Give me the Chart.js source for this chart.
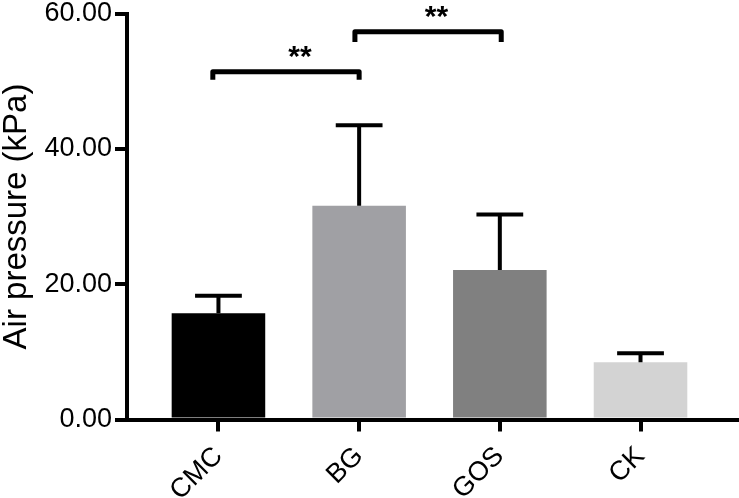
<!DOCTYPE html>
<html>
<head>
<meta charset="utf-8">
<script src="https://cdn.jsdelivr.net/npm/chart.js@4.4.0/dist/chart.umd.min.js"></script>
<style>
html, body { margin: 0; padding: 0; background: #fff; overflow: hidden; }
#wrap { width: 739px; height: 498px; }
</style>
</head>
<body>
<div id="wrap"><canvas id="chart"></canvas></div>
<script>
// Data
const groups = ['CMC', 'BG', 'GOS', 'CK'];
const means = [15.7, 31.6, 22.1, 8.45];
const sd = [2.6, 11.9, 8.2, 1.35];
const barColors = ['#000000', '#a0a0a4', '#808080', '#d3d3d3'];
const yTicks = [0, 20, 40, 60];

// Significance brackets (x in group index, y in kPa)
const bracketFrom = [-0.04, 0.97];
const bracketTo = [1.0, 2.01];
const bracketLevel = [51.4, 57.3];
const bracketFoot = [50.2, 55.8];
const bracketText = ['**', '**'];
const bracketTextX = [0.58, 1.55];

const FONT = '"Liberation Sans", Arial, sans-serif';

// Upper error bars (mean + SD) with a cap half the bar width
const errorBars = {
    id: 'errorBars',
    afterDatasetsDraw(chart) {
        const c = chart.ctx;
        const y = chart.scales.y;
        const meta = chart.getDatasetMeta(0);
        c.save();
        c.strokeStyle = '#000';
        c.lineWidth = 4;
        meta.data.forEach((bar, i) => {
            const top = y.getPixelForValue(means[i] + sd[i]);
            const base = y.getPixelForValue(means[i]);
            const half = bar.width / 4;
            c.beginPath();
            c.moveTo(bar.x, base);
            c.lineTo(bar.x, top);
            c.moveTo(bar.x - half, top);
            c.lineTo(bar.x + half, top);
            c.stroke();
        });
        c.restore();
    }
};

// Brackets with "**" labels
const brackets = {
    id: 'brackets',
    afterDraw(chart) {
        const c = chart.ctx;
        const xs = chart.scales.x;
        const ys = chart.scales.y;
        c.save();
        c.strokeStyle = '#000';
        c.fillStyle = '#000';
        c.lineWidth = 5;
        c.lineJoin = 'round';
        c.font = 'bold 30px ' + FONT;
        c.textAlign = 'center';
        c.textBaseline = 'alphabetic';
        bracketText.forEach((t, i) => {
            const x1 = xs.getPixelForValue(bracketFrom[i]);
            const x2 = xs.getPixelForValue(bracketTo[i]);
            const yl = ys.getPixelForValue(bracketLevel[i]);
            const yf = ys.getPixelForValue(bracketFoot[i]);
            c.beginPath();
            c.moveTo(x1, yf);
            c.lineTo(x1, yl);
            c.lineTo(x2, yl);
            c.lineTo(x2, yf);
            c.stroke();
            c.fillText(t, xs.getPixelForValue(bracketTextX[i]), yl - 6);
        });
        c.restore();
    }
};

new Chart(document.getElementById('chart'), {
    type: 'bar',
    data: {
        datasets: [{
            data: means.map((v, i) => ({ x: i, y: v })),
            backgroundColor: barColors,
            borderWidth: 0,
            barPercentage: 0.665,
            categoryPercentage: 1
        }]
    },
    options: {
        responsive: true,
        maintainAspectRatio: false,
        animation: false,
        layout: { padding: { top: 13.5, right: 0, bottom: 0, left: 0 } },
        plugins: {
            legend: { display: false },
            tooltip: { enabled: false }
        },
        scales: {
            x: {
                type: 'linear',
                min: -0.65,
                max: 3.7,
                offset: false,
                afterBuildTicks: s => { s.ticks = groups.map((g, i) => ({ value: i })); },
                afterFit: s => { s.height = 78.5; },
                grid: {
                    offset: false,
                    drawOnChartArea: false,
                    tickLength: 12,
                    lineWidth: 4,
                    color: '#000'
                },
                border: { display: true, width: 4, color: '#000' },
                ticks: {
                    callback: v => groups[v],
                    minRotation: 45,
                    maxRotation: 45,
                    autoSkip: false,
                    padding: 9,
                    color: '#000',
                    font: { family: FONT, size: 27 }
                }
            },
            y: {
                min: 0,
                max: 60,
                afterBuildTicks: s => { s.ticks = yTicks.map(v => ({ value: v })); },
                afterFit: s => { s.width = 127; s.paddingTop = 0; s.paddingBottom = 0; },
                grid: {
                    drawOnChartArea: false,
                    tickLength: 12,
                    lineWidth: 4,
                    color: '#000'
                },
                border: { display: true, width: 4, color: '#000' },
                ticks: {
                    callback: v => v.toFixed(2),
                    padding: 3,
                    color: '#000',
                    font: { family: FONT, size: 27 }
                },
                title: {
                    display: true,
                    text: 'Air pressure (kPa)',
                    color: '#000',
                    padding: 0,
                    font: { family: FONT, size: 33, lineHeight: 1.05 }
                }
            }
        }
    },
    plugins: [errorBars, brackets]
});
</script>
</body>
</html>
